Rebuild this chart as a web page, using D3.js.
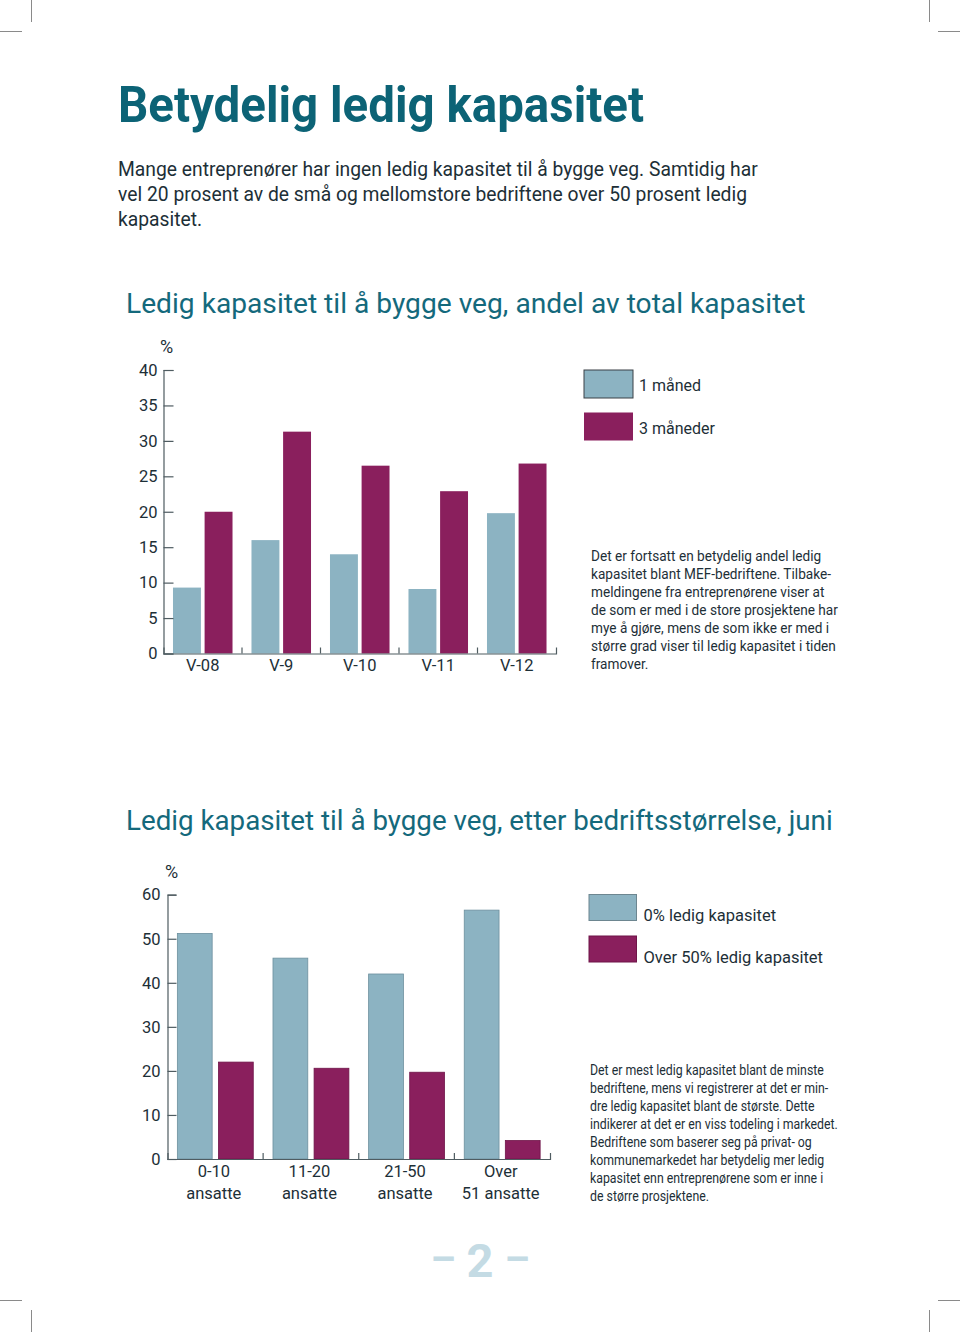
<!DOCTYPE html>
<html><head><meta charset="utf-8">
<script src="https://cdn.jsdelivr.net/npm/d3@7"></script>
<style>body{margin:0;background:#fff}svg{display:block}text{font-family:Roboto,"Noto Sans",sans-serif}</style>
</head><body><svg id="c" width="960" height="1332"></svg>
<script>
// ---------- data ----------
const pageTitle = "Betydelig ledig kapasitet";
const introLines = [
  "Mange entreprenører har ingen ledig kapasitet til å bygge veg. Samtidig har",
  "vel 20 prosent av de små og mellomstore bedriftene over 50 prosent ledig",
  "kapasitet."
];
const title1 = "Ledig kapasitet til å bygge veg, andel av total kapasitet";
const periods = ["V-08", "V-9", "V-10", "V-11", "V-12"];
const seriesNames1 = ["1 måned", "3 måneder"];
const oneMonth = [9.3, 16.0, 14.0, 9.1, 19.8];
const threeMonths = [20.0, 31.3, 26.5, 22.9, 26.8];
const ticks1 = [0, 5, 10, 15, 20, 25, 30, 35, 40];
const note1 = [
  "Det er fortsatt en betydelig andel ledig",
  "kapasitet blant MEF-bedriftene. Tilbake-",
  "meldingene fra entreprenørene viser at",
  "de som er med i de store prosjektene har",
  "mye å gjøre, mens de som ikke er med i",
  "større grad viser til ledig kapasitet i tiden",
  "framover."
];
const title2 = "Ledig kapasitet til å bygge veg, etter bedriftsstørrelse, juni";
const sizeGroups = [["0-10", "ansatte"], ["11-20", "ansatte"], ["21-50", "ansatte"], ["Over", "51 ansatte"]];
const seriesNames2 = ["0% ledig kapasitet", "Over 50% ledig kapasitet"];
const zeroFree = [51.2, 45.6, 42.0, 56.5];
const overHalfFree = [22.0, 20.6, 19.7, 4.2];
const ticks2 = [0, 10, 20, 30, 40, 50, 60];
const note2 = [
  "Det er mest ledig kapasitet blant de minste",
  "bedriftene, mens vi registrerer at det er min-",
  "dre ledig kapasitet blant de største. Dette",
  "indikerer at det er en viss todeling i markedet.",
  "Bedriftene som baserer seg på privat- og",
  "kommunemarkedet har betydelig mer ledig",
  "kapasitet enn entreprenørene som er inne i",
  "de større prosjektene."
];
const pageNumber = "2";

// ---------- styles ----------
const BLUE = "#8cb3c2", PURPLE = "#8a1f5d";
const AXIS = "#4f5c61", TXT = "#1d2f37", TEAL = "#14697c", TITLE = "#0c6376";

const svg = d3.select("#c");

// crop marks
const marks = [
  [31.5, 0, 31.5, 22], [0, 31.5, 22, 31.5],
  [929.5, 0, 929.5, 22], [938, 31.5, 960, 31.5],
  [31.5, 1310, 31.5, 1332], [0, 1300.5, 22, 1300.5],
  [929.5, 1310, 929.5, 1332], [938, 1300.5, 960, 1300.5]
];
svg.append("g").selectAll("line").data(marks).join("line")
  .attr("x1", d => d[0]).attr("y1", d => d[1]).attr("x2", d => d[2]).attr("y2", d => d[3])
  .attr("stroke", "#8a8a8a").attr("stroke-width", 1);

// text block with horizontal fit
function textBlock(lines, x, y0, lh, size, color, weight, refIdx, targetW) {
  const g = svg.append("g");
  const t = g.selectAll("text").data(lines).join("text")
    .attr("x", 0).attr("y", (d, i) => y0 + i * lh)
    .attr("font-size", size).attr("font-weight", weight || 400)
    .attr("fill", color).text(d => d);
  const w = t.nodes()[refIdx].getComputedTextLength();
  const s = targetW / w;
  g.attr("transform", `translate(${x},0) scale(${s},1)`);
  return g;
}

textBlock([pageTitle], 118, 122, 0, 50, TITLE, 700, 0, 526);
textBlock(introLines, 118, 176.5, 25, 20, TXT, 400, 0, 640);
textBlock([title1], 126, 313.5, 0, 27, TEAL, 400, 0, 680);
textBlock([title2], 126, 830.5, 0, 27, TEAL, 400, 0, 707);
textBlock(note1, 591, 561.5, 18, 15, TXT, 400, 3, 247);
textBlock(note2, 590, 1075.5, 18, 15, TXT, 400, 3, 248);

// page number
const pn = svg.append("g").attr("fill", "#c4dbe4");
pn.append("text").attr("x", 480).attr("y", 1277).attr("text-anchor", "middle")
  .attr("font-size", 47).attr("font-weight", 700).text(pageNumber);
pn.append("text").attr("x", 443).attr("y", 1273).attr("text-anchor", "middle")
  .attr("font-size", 40).attr("font-weight", 700).text("–");
pn.append("text").attr("x", 517).attr("y", 1273).attr("text-anchor", "middle")
  .attr("font-size", 40).attr("font-weight", 700).text("–");

function styleAxis(g, fs) {
  g.selectAll("path,line").attr("stroke", AXIS).attr("stroke-width", 1.2);
  g.selectAll("text").attr("fill", TXT).attr("font-size", fs).attr("font-family", "Roboto");
}

// ---------- chart 1 ----------
{
  const x = d3.scaleBand().domain(periods).range([163.5, 556]);
  const y = d3.scaleLinear().domain([0, 40]).range([653.5, 370]);
  const sub = d3.scaleBand().domain(seriesNames1).range([0, x.bandwidth()]).paddingInner(0.117).paddingOuter(0.3);
  const color = d3.scaleOrdinal().domain(seriesNames1).range([BLUE, PURPLE]);
  const rows = periods.map((p, i) => ({ p, vals: [
    { s: seriesNames1[0], v: oneMonth[i] }, { s: seriesNames1[1], v: threeMonths[i] }] }));
  const g = svg.append("g");
  g.selectAll("g.grp").data(rows).join("g").attr("class", "grp")
    .attr("transform", d => `translate(${x(d.p)},0)`)
    .selectAll("rect").data(d => d.vals).join("rect")
    .attr("x", d => sub(d.s)).attr("width", sub.bandwidth())
    .attr("y", d => y(d.v)).attr("height", d => y(0) - y(d.v))
    .attr("fill", d => color(d.s));

  const ya = g.append("g").attr("transform", "translate(163.5,0)")
    .call(d3.axisLeft(y).tickValues(ticks1).tickSize(-10).tickPadding(6));
  styleAxis(ya, 16.5);
  const xa = g.append("g").attr("transform", "translate(0,653.5)")
    .call(d3.axisBottom(x).tickSizeInner(0).tickSizeOuter(-6).tickPadding(6));
  styleAxis(xa, 16.5);
  g.append("g").selectAll("line").data(periods.slice(0, -1)).join("line")
    .attr("x1", d => x(d) + x.bandwidth()).attr("x2", d => x(d) + x.bandwidth())
    .attr("y1", 653.5).attr("y2", 647.5).attr("stroke", AXIS).attr("stroke-width", 1.2);
  g.append("text").attr("x", 160).attr("y", 353).attr("font-size", 18).attr("fill", TXT).text("%");

  const lg = g.append("g").selectAll("g").data(seriesNames1).join("g")
    .attr("transform", (d, i) => `translate(584,${370 + i * 42.5})`);
  lg.append("rect").attr("width", 49).attr("height", 28).attr("fill", d => color(d))
    .attr("stroke", (d, i) => i === 0 ? "#3a4146" : "none").attr("stroke-width", 1);
  lg.append("text").attr("x", 55).attr("y", 21).attr("font-size", 16).attr("fill", TXT).text(d => d);
}

// ---------- chart 2 ----------
{
  const cats = sizeGroups.map(d => d.join(" "));
  const x = d3.scaleBand().domain(cats).range([167.5, 550]);
  const y = d3.scaleLinear().domain([0, 60]).range([1159, 894.7]);
  const sub = d3.scaleBand().domain(seriesNames2).range([0, x.bandwidth()]).paddingInner(0.153).paddingOuter(0.24);
  const color = d3.scaleOrdinal().domain(seriesNames2).range([BLUE, PURPLE]);
  const stroke = d3.scaleOrdinal().domain(seriesNames2).range(["#6d909e", "#6f1549"]);
  const rows = cats.map((c, i) => ({ c, vals: [
    { s: seriesNames2[0], v: zeroFree[i] }, { s: seriesNames2[1], v: overHalfFree[i] }] }));
  const g = svg.append("g");
  g.selectAll("g.grp").data(rows).join("g").attr("class", "grp")
    .attr("transform", d => `translate(${x(d.c)},0)`)
    .selectAll("rect").data(d => d.vals).join("rect")
    .attr("x", d => sub(d.s)).attr("width", sub.bandwidth())
    .attr("y", d => y(d.v)).attr("height", d => y(0) - y(d.v))
    .attr("fill", d => color(d.s)).attr("stroke", d => stroke(d.s)).attr("stroke-width", 0.8);

  const ya = g.append("g").attr("transform", "translate(167.5,0)")
    .call(d3.axisLeft(y).tickValues(ticks2).tickSize(-9).tickPadding(7));
  styleAxis(ya, 16.5);
  const xa = g.append("g").attr("transform", "translate(0,1159)")
    .call(d3.axisBottom(x).tickSizeInner(0).tickSizeOuter(-6).tickFormat(""));
  styleAxis(xa, 16.5);
  g.append("g").selectAll("line").data(cats.slice(0, -1)).join("line")
    .attr("x1", d => x(d) + x.bandwidth()).attr("x2", d => x(d) + x.bandwidth())
    .attr("y1", 1159).attr("y2", 1153).attr("stroke", AXIS).attr("stroke-width", 1.2);
  const lab = g.append("g").selectAll("text").data(sizeGroups).join("text")
    .attr("text-anchor", "middle").attr("font-size", 16.5).attr("fill", TXT)
    .attr("transform", (d, i) => `translate(${x(cats[i]) + x.bandwidth() / 2 - 1.5},0)`);
  lab.selectAll("tspan").data(d => d).join("tspan")
    .attr("x", 0).attr("y", (d, i) => 1177 + i * 21.5).text(d => d);
  g.append("text").attr("x", 165).attr("y", 878).attr("font-size", 18).attr("fill", TXT).text("%");

  const lg = g.append("g").selectAll("g").data(seriesNames2).join("g")
    .attr("transform", (d, i) => `translate(589,${894.5 + i * 41.5})`);
  lg.append("rect").attr("width", 47.5).attr("height", 26).attr("fill", d => color(d))
    .attr("stroke", (d, i) => i === 0 ? "#6d8690" : "#6f1549").attr("stroke-width", 1);
  lg.append("text").attr("x", 54.5).attr("y", 26.5).attr("font-size", 16.5).attr("fill", TXT).text(d => d);
}
</script></body></html>
